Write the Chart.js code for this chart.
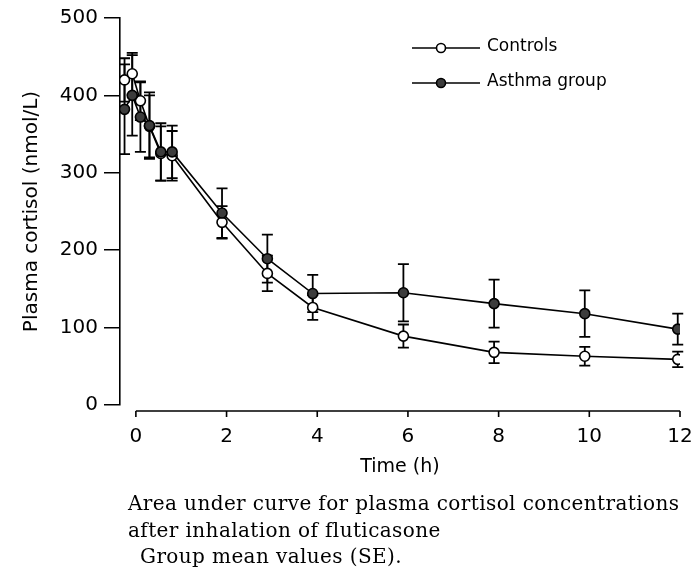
<!DOCTYPE html>
<html>
<head>
<meta charset="utf-8">
<script src="https://cdn.jsdelivr.net/npm/chart.js@4.4.0/dist/chart.umd.min.js"></script>
<style>
html, body { margin: 0; padding: 0; background: #fff; }
#wrap { width: 694px; height: 572px; }
</style>
</head>
<body>
<div id="wrap"><canvas id="cortisolChart" width="694" height="572"></canvas></div>
<script>
// values
const timesH = [-0.25, -0.08, 0.1, 0.3, 0.55, 0.8, 1.9, 2.9, 3.9, 5.9, 7.9, 9.9, 11.95];
const controlsMean = [420, 428, 393, 360, 325, 322, 236, 170, 126, 89, 68, 63, 59];
const controlsSE = [28, 27, 25, 40, 35, 32, 21, 23, 16, 15, 14, 12, 10];
const asthmaMean = [382, 400, 372, 361, 327, 327, 248, 189, 144, 145, 131, 118, 98];
const asthmaSE = [58, 52, 45, 43, 37, 34, 32, 31, 24, 37, 31, 30, 20];
const xTickValues = [0, 2, 4, 6, 8, 10, 12];
const yTickValues = [0, 100, 200, 300, 400, 500];
const seriesLabels = ['Controls', 'Asthma group'];
const captionLines = [
    'Area under curve for plasma cortisol concentrations',
    'after inhalation of fluticasone',
    'Group mean values (SE).'
];

const SANS = '"DejaVu Sans", sans-serif';

function toPoints(means) {
    return timesH.map((t, i) => ({ x: t, y: means[i] }));
}

// SE bars drawn under the lines and markers
const errorBars = {
    id: 'errorBars',
    beforeDatasetsDraw(chart) {
        const { ctx, scales: { x, y } } = chart;
        ctx.save();
        ctx.strokeStyle = '#000';
        ctx.lineWidth = 1.8;
        chart.data.datasets.forEach((ds, i) => {
            if (!chart.isDatasetVisible(i)) return;
            ds.data.forEach((pt, j) => {
                const se = ds.errors[j];
                const px = x.getPixelForValue(pt.x);
                const top = y.getPixelForValue(pt.y + se);
                const bot = y.getPixelForValue(pt.y - se);
                ctx.beginPath();
                ctx.moveTo(px, top);
                ctx.lineTo(px, bot);
                ctx.moveTo(px - 5.5, top);
                ctx.lineTo(px + 5.5, top);
                ctx.moveTo(px - 5.5, bot);
                ctx.lineTo(px + 5.5, bot);
                ctx.stroke();
            });
        });
        ctx.restore();
    }
};

// detached time axis below the plot, as in the original
const timeAxisLine = {
    id: 'timeAxisLine',
    afterDraw(chart) {
        const { ctx, scales: { x }, chartArea } = chart;
        const yLine = chartArea.bottom + 6;
        ctx.save();
        ctx.strokeStyle = '#000';
        ctx.lineWidth = 1.6;
        ctx.beginPath();
        ctx.moveTo(x.getPixelForValue(xTickValues[0]), yLine);
        ctx.lineTo(x.getPixelForValue(xTickValues[xTickValues.length - 1]), yLine);
        xTickValues.forEach(v => {
            const px = x.getPixelForValue(v);
            ctx.moveTo(px, yLine);
            ctx.lineTo(px, yLine + 6);
        });
        ctx.stroke();
        ctx.restore();
    }
};

const lineLegend = {
    id: 'lineLegend',
    afterDraw(chart) {
        const { ctx } = chart;
        ctx.save();
        chart.data.datasets.forEach((ds, i) => {
            const yy = 48 + i * 35;
            ctx.strokeStyle = '#000';
            ctx.lineWidth = 1.6;
            ctx.beginPath();
            ctx.moveTo(412, yy);
            ctx.lineTo(480, yy);
            ctx.stroke();
            ctx.beginPath();
            ctx.arc(441, yy, 4.5, 0, Math.PI * 2);
            ctx.fillStyle = ds.pointBackgroundColor;
            ctx.fill();
            ctx.stroke();
            ctx.fillStyle = '#000';
            ctx.font = '17px ' + SANS;
            ctx.textBaseline = 'middle';
            ctx.textAlign = 'left';
            ctx.fillText(ds.label, 487, yy - 1);
        });
        ctx.restore();
    }
};

const caption = {
    id: 'caption',
    afterDraw(chart) {
        const { ctx } = chart;
        ctx.save();
        ctx.fillStyle = '#000';
        ctx.font = '20px "DejaVu Serif", serif';
        ctx.letterSpacing = '0.4px';
        ctx.textBaseline = 'middle';
        ctx.textAlign = 'left';
        captionLines.forEach((line, i) => {
            ctx.fillText(line, i === 2 ? 140 : 128, 505 + i * 26.5);
        });
        ctx.restore();
    }
};

const chart = new Chart(document.getElementById('cortisolChart'), {
    type: 'line',
    data: {
        datasets: [
            {
                label: seriesLabels[0],
                data: toPoints(controlsMean),
                errors: controlsSE,
                borderColor: '#000',
                borderWidth: 1.6,
                pointRadius: 5,
                pointBackgroundColor: '#fff',
                pointBorderColor: '#000',
                pointBorderWidth: 1.6,
                tension: 0,
                fill: false,
                order: 1
            },
            {
                label: seriesLabels[1],
                data: toPoints(asthmaMean),
                errors: asthmaSE,
                borderColor: '#000',
                borderWidth: 1.6,
                pointRadius: 5,
                pointBackgroundColor: '#3c3c3c',
                pointBorderColor: '#000',
                pointBorderWidth: 1.6,
                tension: 0,
                fill: false,
                order: 0
            }
        ]
    },
    options: {
        responsive: false,
        animation: false,
        layout: {
            padding: { top: 16, right: 0, bottom: 90, left: 0 }
        },
        scales: {
            x: {
                type: 'linear',
                min: -0.35,
                max: 12,
                afterBuildTicks: (s) => { s.ticks = xTickValues.map(v => ({ value: v })); },
                afterFit: (s) => {
                    s.height = 77;
                    s.paddingLeft = 0;
                    s.paddingRight = 14;
                },
                grid: { display: false },
                border: { display: false },
                ticks: {
                    color: '#000',
                    padding: 12,
                    font: { family: SANS, size: 20 }
                },
                title: {
                    display: true,
                    text: 'Time (h)',
                    color: '#000',
                    font: { family: SANS, size: 19 },
                    padding: { top: 0, bottom: 4 }
                }
            },
            y: {
                min: 0,
                max: 500,
                afterBuildTicks: (s) => { s.ticks = yTickValues.map(v => ({ value: v })); },
                afterFit: (s) => { s.width = 120; },
                grid: {
                    drawOnChartArea: false,
                    drawTicks: true,
                    tickLength: 16,
                    color: '#000',
                    lineWidth: 1.5
                },
                border: { display: true, color: '#000', width: 1.6 },
                ticks: {
                    color: '#000',
                    padding: 6,
                    font: { family: SANS, size: 20 }
                },
                title: {
                    display: true,
                    text: 'Plasma cortisol (nmol/L)',
                    color: '#000',
                    font: { family: SANS, size: 20 },
                    padding: { top: 20, bottom: 0 }
                }
            }
        },
        plugins: {
            legend: { display: false },
            tooltip: { enabled: false }
        }
    },
    plugins: [errorBars, timeAxisLine, lineLegend, caption]
});
</script>
</body>
</html>
